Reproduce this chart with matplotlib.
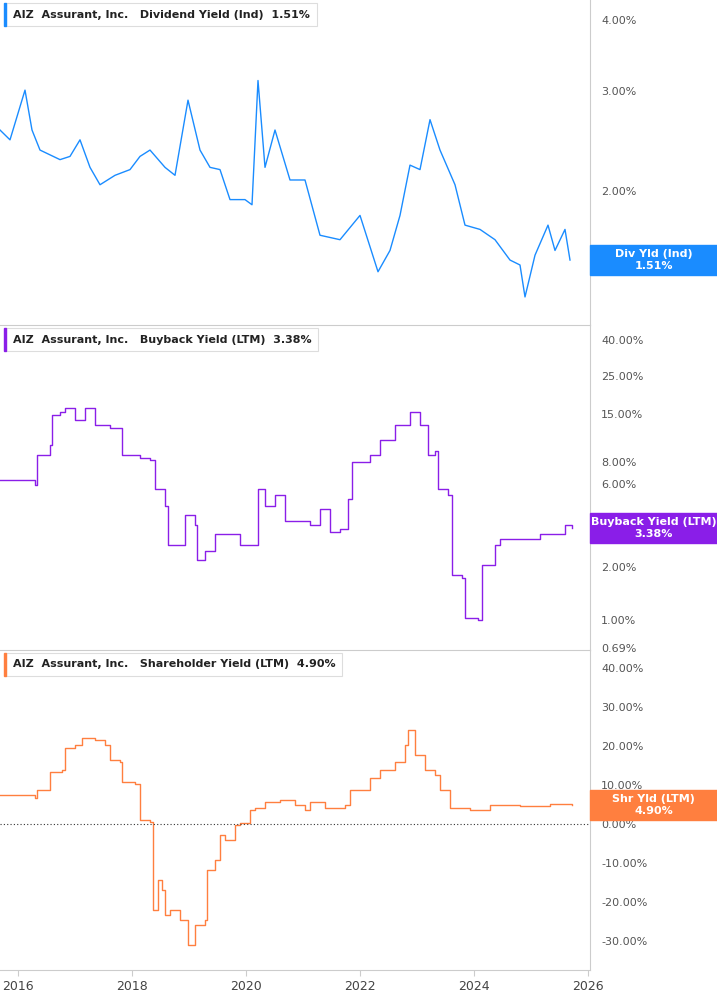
import matplotlib
matplotlib.use("Agg")
import matplotlib.pyplot as plt
from matplotlib.ticker import FixedLocator, FixedFormatter, NullLocator
import numpy as np

# x positions are in pixels of the reference converted to fractional years
div_x = [0,10,25,32,40,60,70,80,90,100,115,130,140,150,165,175,188,200,210,220,230,245,252,258,265,275,290,305,320,340,360,378,390,400,410,420,430,440,455,465,480,495,510,520,525,535,548,555,565,570]
div_y = [2.56,2.46,3.01,2.56,2.36,2.27,2.30,2.46,2.20,2.05,2.13,2.18,2.30,2.36,2.20,2.13,2.89,2.36,2.20,2.18,1.93,1.93,1.89,3.13,2.20,2.56,2.09,2.09,1.67,1.64,1.81,1.44,1.57,1.81,2.22,2.18,2.67,2.36,2.05,1.74,1.71,1.64,1.51,1.48,1.30,1.54,1.74,1.57,1.71,1.51]

bb_x = [0,35,37,50,52,60,65,75,85,95,110,122,140,150,155,165,168,180,185,195,197,205,215,240,255,258,265,275,285,310,320,330,340,348,352,370,380,395,410,420,428,435,438,448,452,462,465,478,482,495,500,520,540,565,572]
bb_y = [6.3,5.9,8.8,10.0,14.9,15.5,16.3,13.9,16.3,13.0,12.6,8.8,8.4,8.2,5.6,4.5,2.7,2.7,4.0,3.5,2.2,2.5,3.1,2.7,2.7,5.6,4.5,5.2,3.7,3.5,4.3,3.2,3.3,4.9,8.0,8.8,10.7,13.0,15.5,13.0,8.8,9.3,5.6,5.2,1.8,1.74,1.03,1.0,2.06,2.7,2.9,2.9,3.1,3.5,3.36]

sh_x = [0,35,37,48,50,62,65,75,82,95,105,110,120,122,135,140,150,153,158,162,165,170,180,188,195,205,207,215,220,225,235,240,250,255,265,280,295,305,310,325,345,350,370,380,395,405,408,415,425,435,440,450,470,490,520,550,572]
sh_y = [7.4,6.7,8.7,8.7,13.3,13.8,19.5,20.3,22.1,21.5,20.3,16.4,15.9,10.8,10.3,1.0,0.5,-22.1,-14.4,-16.9,-23.3,-22.1,-24.6,-31.0,-25.9,-24.6,-11.8,-9.2,-2.8,-4.1,-0.3,0.3,3.6,4.1,5.6,6.2,4.9,3.6,5.6,4.1,4.9,8.7,11.8,13.8,15.9,20.3,24.1,17.7,13.8,12.6,8.7,4.1,3.6,4.9,4.6,5.1,4.9]

def to_year(px):
    return 2015.684 + np.asarray(px) / 57.0

W, H = 717, 1005
fig = plt.figure(figsize=(W/100, H/100), dpi=100)
right = 590 / W
bounds = [(0, 325), (325, 650), (650, 970)]
axes = []
for (t, b) in bounds:
    ax = fig.add_axes([0, 1 - b / H, right, (b - t) / H])
    axes.append(ax)

panels = [
    dict(x=div_x, y=div_y, c="#1a8cff", log=True, ylim=(1.16, 4.34), ds="default",
         ticks=[2, 3, 4], labels=["2.00%", "3.00%", "4.00%"],
         title="Dividend Yield (Ind)", val="1.51%", box="Div Yld (Ind)"),
    dict(x=bb_x, y=bb_y, c="#8a1ee8", log=True, ylim=(0.675, 48.7), ds="steps-post",
         ticks=[0.69, 1, 2, 3, 6, 8, 15, 25, 40],
         labels=["0.69%", "1.00%", "2.00%", "3.00%", "6.00%", "8.00%", "15.00%", "25.00%", "40.00%"],
         title="Buyback Yield (LTM)", val="3.38%", box="Buyback Yield (LTM)"),
    dict(x=sh_x, y=sh_y, c="#ff7f3f", log=False, ylim=(-37.4, 44.6), ds="steps-post",
         ticks=[-30, -20, -10, 0, 10, 20, 30, 40],
         labels=["-30.00%", "-20.00%", "-10.00%", "0.00%", "10.00%", "20.00%", "30.00%", "40.00%"],
         title="Shareholder Yield (LTM)", val="4.90%", box="Shr Yld (LTM)"),
]

for i, (ax, p) in enumerate(zip(axes, panels)):
    xs = to_year(p["x"])
    ax.plot(xs, p["y"], color=p["c"], lw=1.0, drawstyle=p["ds"])
    if p["log"]:
        ax.set_yscale("log")
    ax.set_ylim(*p["ylim"])
    ax.set_xlim(to_year(0), to_year(590))
    ax.yaxis.tick_right()
    ax.yaxis.set_major_locator(FixedLocator(p["ticks"]))
    ax.yaxis.set_major_formatter(FixedFormatter(p["labels"]))
    ax.yaxis.set_minor_locator(NullLocator())
    ax.tick_params(axis="y", length=0, labelsize=8, labelcolor="#555555", pad=8)
    for s in ["left", "bottom"]:
        ax.spines[s].set_visible(False)
    ax.spines["right"].set_color("#cccccc")
    ax.spines["top"].set_color("#cccccc")
    ax.spines["top"].set_visible(i > 0)
    if i < 2:
        ax.set_xticks([])
    else:
        ax.set_xticks([2016, 2018, 2020, 2022, 2024, 2026])
        ax.set_xticklabels(["2016", "2018", "2020", "2022", "2024", "2026"])
        ax.tick_params(axis="x", labelsize=9, labelcolor="#444444", length=4, color="#cccccc")
        ax.spines["bottom"].set_visible(True)
        ax.spines["bottom"].set_color("#cccccc")
        ax.axhline(0, color="#333333", lw=0.8, ls=(0, (1, 2)))
    ax.text(0.022, 0.955, f"AIZ  Assurant, Inc.   {p['title']}  {p['val']}",
            transform=ax.transAxes, fontsize=8, fontweight="bold", color="#222222",
            va="center", ha="left",
            bbox=dict(boxstyle="square,pad=0.6", fc="white", ec="#dddddd", lw=0.8))
    ax.add_patch(plt.Rectangle((0.006, 0.92), 0.005, 0.07, transform=ax.transAxes,
                               color=p["c"], clip_on=False, zorder=5))
    last = p["y"][-1]
    ypix = ax.transData.transform((to_year(590), last))[1]
    yfig = ypix / H
    fig.patches.append(plt.Rectangle((right, yfig - 15 / H), 1 - right, 30 / H,
                                     transform=fig.transFigure, color=p["c"], zorder=10))
    fig.text((right + 1) / 2, yfig + 6 / H, p["box"], color="white", fontsize=8,
             fontweight="bold", ha="center", va="center", zorder=11)
    fig.text((right + 1) / 2, yfig - 6 / H, p["val"], color="white", fontsize=8,
             fontweight="bold", ha="center", va="center", zorder=11)

fig.savefig("out.png", dpi=100)
